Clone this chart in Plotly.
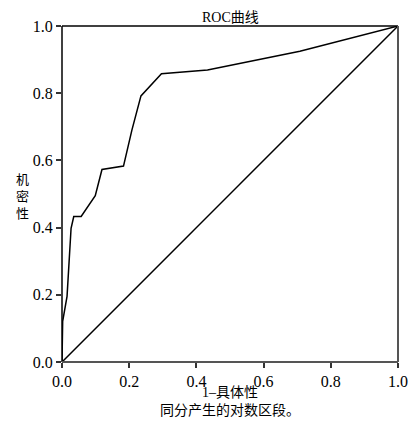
import plotly.graph_objects as go

# ROC curve points (1 - specificity, sensitivity)
fpr = [0.0, 0.002, 0.015, 0.027, 0.035, 0.057, 0.099, 0.119, 0.183, 0.208, 0.235, 0.296, 0.433, 0.708, 1.0]
tpr = [0.0, 0.121, 0.195, 0.398, 0.433, 0.433, 0.495, 0.573, 0.583, 0.69, 0.792, 0.858, 0.869, 0.925, 1.0]

# reference diagonal
diag_x = [0.0, 1.0]
diag_y = [0.0, 1.0]

tick_vals = [0.0, 0.2, 0.4, 0.6, 0.8, 1.0]
tick_text = ["0.0", "0.2", "0.4", "0.6", "0.8", "1.0"]

title_text = "ROC曲线"
x_title = "1–具体性"
x_note = "同分产生的对数区段。"
y_title = "机<br>密<br>性"

FONT = "'Liberation Serif', 'Times New Roman', 'Noto Sans CJK SC', serif"
BLACK = "#000000"

fig = go.Figure()
fig.add_trace(go.Scatter(x=diag_x, y=diag_y, mode="lines",
                         line=dict(color="black", width=1.5), showlegend=False, hoverinfo="skip"))
fig.add_trace(go.Scatter(x=fpr, y=tpr, mode="lines",
                         line=dict(color="black", width=1.5), showlegend=False))

axis_common = dict(
    range=[0, 1], tickvals=tick_vals, ticktext=tick_text,
    ticks="outside", ticklen=5, tickwidth=1.5, tickcolor="#333",
    showgrid=False, zeroline=False, showline=False, automargin=False,
    tickfont=dict(family=FONT, size=16, color=BLACK),
)

annotations = [
    dict(text=title_text, x=0.5, y=1, xref="x domain", yref="y domain",
         yshift=-1, showarrow=False, yanchor="bottom",
         font=dict(family=FONT, size=14, color=BLACK)),
    dict(text=x_title, x=0.5, y=0, xref="x domain", yref="y domain",
         yshift=-21, showarrow=False, yanchor="top",
         font=dict(family=FONT, size=14, color=BLACK)),
    dict(text=x_note, x=0.5, y=0, xref="x domain", yref="y domain",
         yshift=-39, showarrow=False, yanchor="top",
         font=dict(family=FONT, size=14, color=BLACK)),
    dict(text=y_title, x=0, y=0.5, xref="x domain", yref="y domain",
         xshift=-40, yshift=-2, showarrow=False, xanchor="center", yanchor="middle",
         font=dict(family=FONT, size=13, color=BLACK)),
]

fig.update_layout(
    width=410, height=425,
    margin=dict(l=62, r=12, t=26, b=63),
    paper_bgcolor="white", plot_bgcolor="white",
    xaxis=dict(**axis_common),
    yaxis=dict(**axis_common),
    font=dict(family=FONT, color=BLACK),
    shapes=[
        dict(type="line", xref="x domain", yref="y domain", x0=0, x1=1, y0=1, y1=1,
             line=dict(color="black", width=1.5)),
        dict(type="line", xref="x domain", yref="y domain", x0=0, x1=0, y0=0, y1=1,
             line=dict(color="black", width=1.5)),
        dict(type="line", xref="x domain", yref="y domain", x0=1, x1=1, y0=0, y1=1,
             line=dict(color="#555", width=2)),
        dict(type="line", xref="x domain", yref="y domain", x0=0, x1=1, y0=0, y1=0,
             line=dict(color="#555", width=2)),
    ],
    annotations=annotations,
)

fig.write_html("out.html", config={"displayModeBar": False},
               post_script="document.body.style.margin='0';document.body.style.overflow='hidden';")
